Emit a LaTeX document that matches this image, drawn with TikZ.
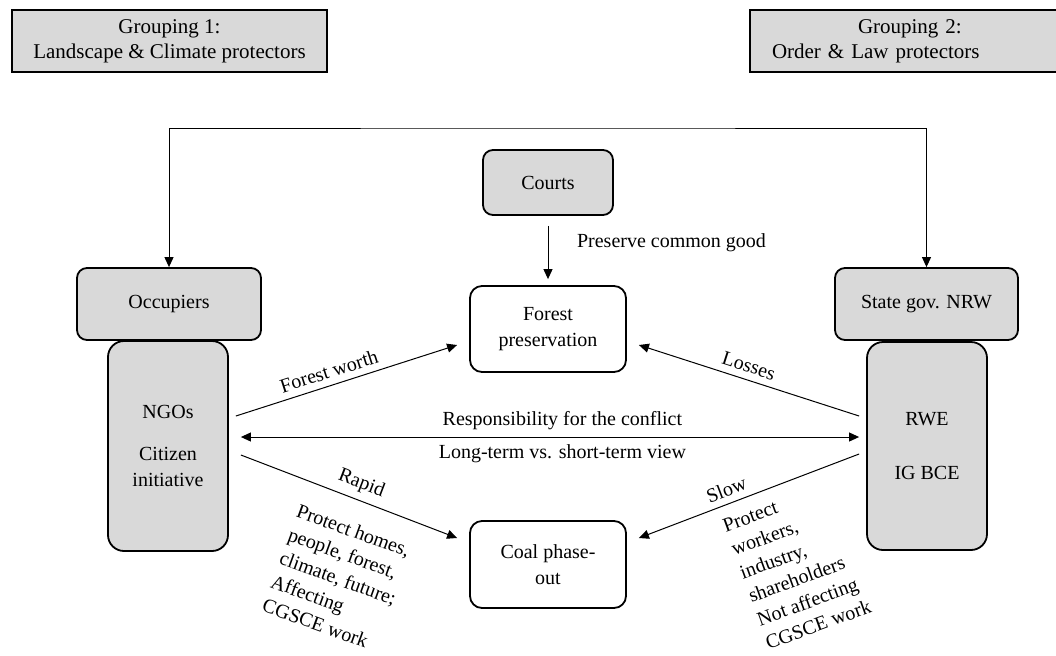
\documentclass[tikz,border=0pt]{standalone}
\usepackage{fontspec}
\setmainfont{Liberation Serif}
\usetikzlibrary{arrows.meta}
\definecolor{boxgray}{HTML}{D9D9D9}

\begin{document}
\begin{tikzpicture}[x=0.5pt, y=-0.5pt, >={Triangle[length=5pt,width=4.5pt]},
    every node/.style={font=\fontsize{10}{13}\selectfont},
    group/.style={draw, line width=1pt, fill=boxgray, minimum height=31pt, inner sep=0pt, font=\fontsize{10.5}{12.5}\selectfont},
    actor/.style={draw, line width=0.9pt, fill=boxgray, rounded corners=5pt, align=center, inner sep=0pt},
    issue/.style={draw, line width=0.9pt, fill=white, rounded corners=6pt, align=center, minimum width=78pt, inner sep=0pt},
    link/.style={line width=0.5pt},
    note/.style={align=left, inner sep=0pt, font=\fontsize{10}{12.5}\selectfont}]
    \useasboundingbox (0,0) rectangle (1056,655);

    % the two groupings
    \node[group, minimum width=157.5pt, align=center] (grpone) at (169.5,41) {Grouping 1:\\Landscape \& Climate protectors};
    \node[group, minimum width=160pt, text width=138pt, align=left] (grptwo) at (910,41) {\hspace*{43pt}Grouping 2:\\Order \& Law protectors};

    % actors
    \node[actor, minimum width=65pt, minimum height=32.5pt] (courts) at (548,182.5) {Courts};
    \node[actor, minimum width=92pt, minimum height=36pt] (occ) at (169,304) {Occupiers};
    \node[actor, minimum width=60pt, minimum height=105pt, rounded corners=8pt] (ngo) at (168,446) {NGOs\\[8pt]Citizen\\initiative};
    \node[actor, minimum width=91.5pt, minimum height=36pt] (state) at (926.5,304) {State gov. NRW};
    \node[actor, minimum width=60pt, minimum height=104pt, rounded corners=8pt] (rwe) at (927,446) {RWE\\[14pt]IG BCE};

    % issues
    \node[issue, minimum height=43pt] (forest) at (548,329) {Forest\\preservation};
    \node[issue, minimum height=43.5pt] (coal) at (548,564.5) {Coal phase-\\out};

    % connectors
    \coordinate (topline) at (548,128);
    \draw[link, <->] (occ.north) |- (topline) -| (state.north);
    \draw[link, ->, shorten <=5pt, shorten >=3pt] (courts) -- (forest);
    \node[anchor=west] (common) at (570,243) {Preserve common good};

    \draw[link, ->] ([xshift=3.5pt,yshift=15pt]ngo.east) -- node[sloped, above, pos=0.44] (worth) {Forest worth} ([xshift=-6pt,yshift=-8pt]forest.west);
    \draw[link, <-] ([xshift=6pt,yshift=-8pt]forest.east) -- node[sloped, above, pos=0.48] (losses) {Losses} ([xshift=-3.5pt,yshift=15pt]rwe.west);
    \draw[link, <->] ([xshift=6pt,yshift=4.5pt]ngo.east) -- node[above, pos=0.52] (resp) {Responsibility for the conflict}
        node[below, pos=0.52] (view) {Long-term vs. short-term view} ([xshift=-3.5pt,yshift=4.5pt]rwe.west);
    \draw[link, ->] ([xshift=6pt,yshift=-4.5pt]ngo.east) -- node[sloped, above, pos=0.53] (rapid) {Rapid} ([xshift=-6pt,yshift=13.25pt]coal.west);
    \draw[link, <-] ([xshift=6pt,yshift=13.25pt]coal.east) -- node[sloped, above, pos=0.42] (slow) {Slow} ([xshift=-3.5pt,yshift=-4pt]rwe.west);

    % what each side protects
    \node[note, rotate=-20] (leftnote) at (338,578) {Protect homes,\\people, forest,\\climate, future;\\Affecting\\CGSCE work};
    \node[note, rotate=20] (rightnote) at (797,566) {Protect\\workers,\\industry,\\shareholders\\Not affecting\\CGSCE work};
\end{tikzpicture}
\end{document}
